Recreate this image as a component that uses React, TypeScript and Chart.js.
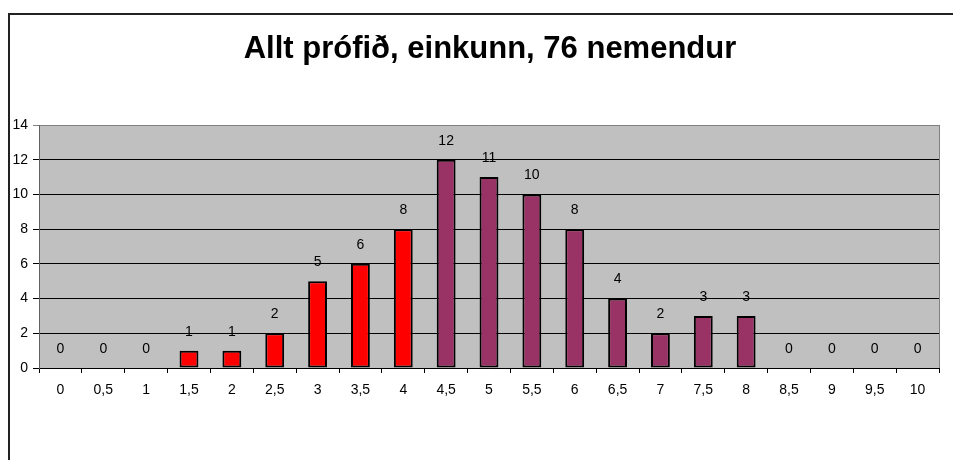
import React, { useEffect, useRef } from "react";
import { Chart, registerables } from "chart.js";

Chart.register(...registerables);

const TITLE = "Allt prófið, einkunn, 76 nemendur";
const categories = ["0", "0,5", "1", "1,5", "2", "2,5", "3", "3,5", "4", "4,5", "5", "5,5", "6", "6,5", "7", "7,5", "8", "8,5", "9", "9,5", "10"];
const counts = [0, 0, 0, 1, 1, 2, 5, 6, 8, 12, 11, 10, 8, 4, 2, 3, 3, 0, 0, 0, 0];
const yTicks = [0, 2, 4, 6, 8, 10, 12, 14];

const FONT = '"Liberation Sans", Arial, sans-serif';

const decorPlugin = {
  id: "decor",
  beforeDraw(chart: any) {
    const { ctx, chartArea } = chart;
    ctx.save();
    ctx.fillStyle = "#ffffff";
    ctx.fillRect(0, 0, chart.width, chart.height);
    ctx.fillStyle = "#C0C0C0";
    ctx.fillRect(chartArea.left, chartArea.top, chartArea.right - chartArea.left, chartArea.bottom - chartArea.top);
    // outer frame (left + top)
    ctx.strokeStyle = "#222";
    ctx.lineWidth = 2;
    ctx.beginPath();
    ctx.moveTo(9, chart.height);
    ctx.lineTo(9, 14);
    ctx.lineTo(chart.width, 14);
    ctx.stroke();
    // title
    ctx.fillStyle = "#000";
    ctx.font = `bold 31px ${FONT}`;
    ctx.textAlign = "center";
    ctx.textBaseline = "alphabetic";
    ctx.fillText(TITLE, 490, 58);
    ctx.restore();
  },
  beforeDatasetsDraw(chart: any) {
    const { ctx, chartArea } = chart;
    ctx.save();
    ctx.strokeStyle = "#808080";
    ctx.lineWidth = 1;
    ctx.beginPath();
    ctx.moveTo(chartArea.right + 0.5, chartArea.top);
    ctx.lineTo(chartArea.right + 0.5, chartArea.bottom);
    ctx.stroke();
    ctx.restore();
  },
  afterDatasetsDraw(chart: any) {
    const { ctx } = chart;
    const meta = chart.getDatasetMeta(0);
    ctx.save();
    ctx.fillStyle = "#000";
    ctx.font = `14px ${FONT}`;
    ctx.textAlign = "center";
    ctx.textBaseline = "middle";
    meta.data.forEach((bar: any, i: number) => {
      ctx.fillText(String(counts[i]), bar.x, bar.y - 19);
    });
    ctx.restore();
  },
};

export default function App() {
  const ref = useRef<HTMLCanvasElement>(null);
  useEffect(() => {
    if (!ref.current) return;
    const chart = new Chart(ref.current, {
      type: "bar",
      data: {
        labels: categories,
        datasets: [
          {
            data: counts,
            backgroundColor: (c: any) => (c.dataIndex <= 8 ? "#FF0000" : "#993366"),
            borderColor: "#000000",
            borderWidth: 2,
            borderSkipped: false,
            barPercentage: 0.44,
            categoryPercentage: 1,
          },
        ],
      },
      options: {
        animation: false,
        responsive: true,
        maintainAspectRatio: false,
        layout: { padding: { top: 125, right: 14, bottom: 62, left: 0 } },
        plugins: { legend: { display: false }, title: { display: false }, tooltip: { enabled: false } },
        scales: {
          x: {
            afterFit: (s: any) => { s.height = 30; },
            grid: { offset: true, drawOnChartArea: false, drawTicks: true, tickLength: 5, color: "#000" },
            border: { color: "#000", width: 1 },
            ticks: { color: "#000", font: { family: FONT, size: 14 }, padding: 9, maxRotation: 0, autoSkip: false },
          },
          y: {
            min: 0,
            max: 14,
            afterFit: (s: any) => { s.width = 39; },
            afterBuildTicks: (s: any) => { s.ticks = yTicks.map((v) => ({ value: v })); },
            grid: { color: (c: any) => (c.tick && c.tick.value === 14 ? "#808080" : "#000"), tickLength: 6, lineWidth: 1 },
            border: { color: "#606060", width: 1 },
            ticks: { color: "#000", font: { family: FONT, size: 14 }, padding: 5 },
          },
        },
      },
      plugins: [decorPlugin],
    });
    return () => chart.destroy();
  }, []);
  return (
    <div style={{ position: "fixed", left: 0, top: 0, width: 953, height: 460 }}>
      <canvas ref={ref} />
    </div>
  );
}
